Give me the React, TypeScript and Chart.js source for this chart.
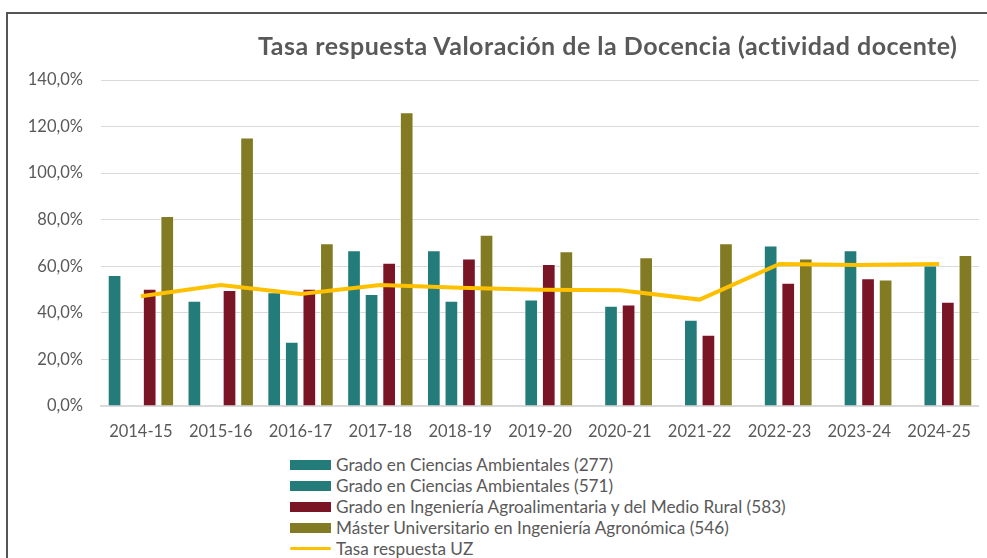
import React, { useEffect, useRef } from "react";
import { Chart, registerables } from "chart.js";

Chart.register(...registerables);

const categories = [
  "2014-15", "2015-16", "2016-17", "2017-18", "2018-19", "2019-20",
  "2020-21", "2021-22", "2022-23", "2023-24", "2024-25",
];

const seriesNames = [
  "Grado en Ciencias Ambientales (277)",
  "Grado en Ciencias Ambientales (571)",
  "Grado en Ingeniería Agroalimentaria y del Medio Rural (583)",
  "Máster Universitario en Ingeniería Agronómica (546)",
  "Tasa respuesta UZ",
];

const ciencias277 = [56.3, 45.2, 48.8, 66.9, 66.9, null, null, null, null, null, null];
const ciencias571 = [null, null, 27.6, 48.1, 45.2, 45.7, 43.1, 37.0, 68.9, 66.9, 60.3];
const agroalimentaria583 = [50.3, 49.8, 50.3, 61.5, 63.3, 61.0, 43.6, 30.6, 52.9, 54.9, 44.8];
const master546 = [81.6, 115.3, 69.9, 126.1, 73.5, 66.5, 63.9, 69.9, 63.3, 54.3, 64.9];
const tasaUZ = [47.1, 52.0, 48.1, 52.0, 50.8, 49.9, 49.7, 45.7, 61.0, 60.6, 61.0];

const yMin = 0;
const yMax = 140;
const yStep = 20;

const colors = ["#237C79", "#237C79", "#7A1526", "#827B24", "#FFC000"];
const FONT = "Lato, 'Open Sans', sans-serif";
const TEXT = "#595959";

export default function App() {
  const ref = useRef<HTMLCanvasElement>(null);

  useEffect(() => {
    if (!ref.current) return;
    const barData = [ciencias277, ciencias571, agroalimentaria583, master546];
    const chart = new Chart(ref.current, {
      type: "bar",
      data: {
        labels: categories,
        datasets: [
          ...barData.map((d, i) => ({
            type: "bar" as const,
            label: seriesNames[i],
            data: d,
            backgroundColor: colors[i],
            borderColor: "rgba(255,255,255,0.55)",
            borderWidth: 1,
            barPercentage: 0.78,
            categoryPercentage: 0.88,
            order: 1,
          })),
          {
            type: "line" as const,
            label: seriesNames[4],
            data: tasaUZ,
            borderColor: colors[4],
            backgroundColor: colors[4],
            borderWidth: 4,
            pointRadius: 0,
            tension: 0,
            order: 0,
          },
        ],
      },
      options: {
        responsive: false,
        animation: false,
        layout: { padding: { top: 80, right: 3, left: 0, bottom: 0 } },
        plugins: {
          legend: { display: false },
          title: { display: false },
          tooltip: { enabled: false },
        },
        scales: {
          x: {
            grid: { display: false, drawTicks: false },
            border: { display: true, color: "#D9D9D9", width: 2 },
            ticks: {
              color: TEXT,
              font: { family: FONT, size: 16.5 },
              padding: 16,
              maxRotation: 0,
            },
            afterFit: (s: any) => {
              s.height = 34;
            },
          },
          y: {
            min: yMin,
            max: yMax,
            border: { display: false },
            grid: { color: "#D9D9D9", lineWidth: 1, drawTicks: false },
            ticks: {
              stepSize: yStep,
              color: TEXT,
              font: { family: FONT, size: 16.5 },
              padding: 18,
              callback: (v: any) => Number(v).toFixed(1).replace(".", ",") + "%",
            },
            afterFit: (s: any) => {
              s.width = 101;
            },
          },
        },
      },
    });
    return () => chart.destroy();
  }, []);

  return (
    <div
      style={{
        position: "fixed",
        left: 0,
        top: 0,
        width: 987,
        height: 558,
        background: "#fff",
        overflow: "hidden",
        fontFamily: FONT,
      }}
    >
      <div
        style={{
          position: "absolute",
          left: 6,
          top: 12,
          width: 1100,
          height: 700,
          border: "2px solid #555",
          boxSizing: "border-box",
        }}
      />
      <canvas ref={ref} width={987} height={440} style={{ position: "absolute", left: 0, top: 0 }} />
      <div
        style={{
          position: "absolute",
          left: 258,
          top: 29,
          fontSize: 25,
          fontWeight: 700,
          letterSpacing: 0.5,
          color: TEXT,
          whiteSpace: "nowrap",
          lineHeight: "32px",
        }}
      >
        Tasa respuesta Valoración de la Docencia (actividad docente)
      </div>
      <div style={{ position: "absolute", left: 290, top: 454 }}>
        {seriesNames.map((name, i) => (
          <div
            key={name}
            style={{
              display: "flex",
              alignItems: "center",
              height: 21,
              fontSize: 17.2,
              color: TEXT,
              whiteSpace: "nowrap",
            }}
          >
            <span
              style={{
                display: "inline-block",
                width: 41,
                height: i === 4 ? 3 : 10,
                background: colors[i],
                borderRadius: i === 4 ? 2 : 0,
                marginRight: 5,
                flexShrink: 0,
              }}
            />
            {name}
          </div>
        ))}
      </div>
    </div>
  );
}
